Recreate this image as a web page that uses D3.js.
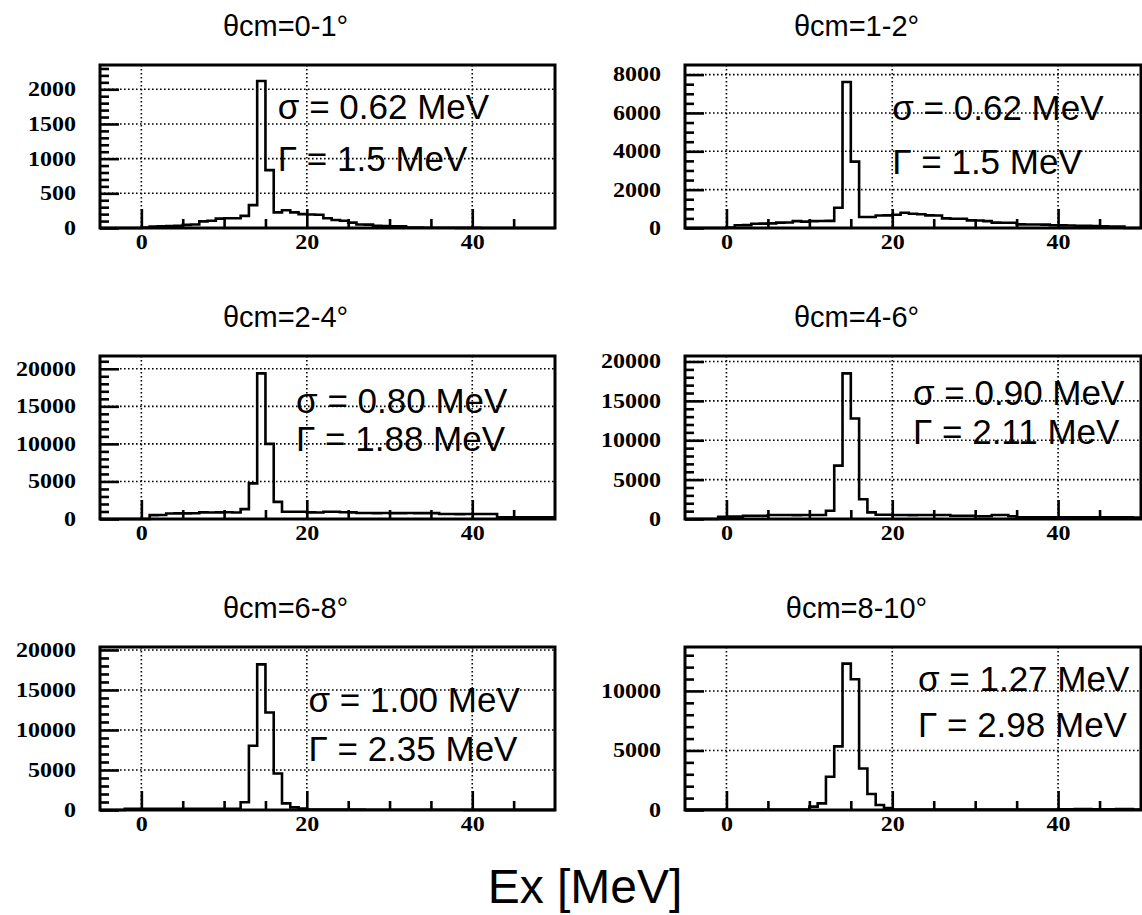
<!DOCTYPE html>
<html>
<head>
<meta charset="utf-8">
<script src="https://cdn.jsdelivr.net/npm/d3@7"></script>
<style>
  body { margin: 0; background: #fff; }
  svg { display: block; }
</style>
</head>
<body>
<div id="graph-holder"></div>
<script>
// bins are 1 MeV wide, left edges -5 ... 49
var binEdges = d3.range(-5, 51, 1);

var titles = ["θcm=0-1°", "θcm=1-2°", "θcm=2-4°", "θcm=4-6°", "θcm=6-8°", "θcm=8-10°"];
var sigmaText = ["σ = 0.62 MeV", "σ = 0.62 MeV", "σ = 0.80 MeV", "σ = 0.90 MeV", "σ = 1.00 MeV", "σ = 1.27 MeV"];
var gammaText = ["Γ = 1.5 MeV", "Γ = 1.5 MeV", "Γ = 1.88 MeV", "Γ = 2.11 MeV", "Γ = 2.35 MeV", "Γ = 2.98 MeV"];

var yMax = [2350, 8500, 21700, 20700, 20370, 13690];
var yMajor = [
  [0, 500, 1000, 1500, 2000],
  [0, 2000, 4000, 6000, 8000],
  [0, 5000, 10000, 15000, 20000],
  [0, 5000, 10000, 15000, 20000],
  [0, 5000, 10000, 15000, 20000],
  [0, 5000, 10000]
];
var yMinorStep = [100, 500, 1000, 1000, 1000, 1000];
var xMajor = [0, 20, 40];
var xMinor = [5, 10, 15, 25, 30, 35, 45];

// counts per bin
var counts0 = [0, 0, 0, 0, 0, 5, 20, 25, 28, 30, 45, 50, 95, 105, 135, 140, 140, 175, 330, 2120,
  835, 225, 255, 225, 200, 195, 190, 140, 115, 105, 78, 50, 48, 30, 28, 26, 25, 8, 5, 4,
  4, 3, 3, 2, 2, 2, 1, 1, 0, 0, 0, 0, 0, 0, 0];
var counts1 = [0, 0, 0, 0, 0, 30, 140, 150, 220, 230, 240, 280, 290, 360, 330, 360, 365, 370, 1055, 7610,
  3460, 570, 575, 650, 660, 690, 795, 745, 720, 660, 650, 500, 485, 480, 400, 390, 360, 280, 275, 270,
  190, 185, 180, 175, 140, 135, 130, 120, 110, 100, 90, 80, 70, 0, 0];
var counts2 = [0, 0, 0, 0, 0, 0, 520, 530, 740, 750, 745, 760, 880, 870, 880, 890, 870, 1320, 4740, 19390,
  10000, 2280, 960, 970, 960, 880, 870, 960, 970, 900, 880, 790, 790, 785, 790, 780, 785, 790, 780, 785,
  780, 660, 660, 655, 660, 665, 660, 660, 220, 220, 225, 220, 220, 215, 220];
var counts3 = [0, 0, 0, 0, 290, 300, 300, 420, 420, 410, 500, 500, 500, 490, 500, 505, 500, 1050, 6780, 18490,
  12760, 2510, 840, 540, 545, 500, 500, 495, 500, 500, 500, 500, 420, 420, 420, 340, 340, 500, 500, 340,
  210, 210, 205, 210, 210, 215, 210, 210, 205, 210, 210, 205, 210, 210, 200];
var counts4 = [0, 0, 0, 150, 150, 150, 150, 150, 150, 150, 150, 150, 150, 150, 150, 150, 150, 960, 8020, 18200,
  12180, 4570, 830, 330, 170, 60, 60, 55, 50, 50, 45, 45, 40, 40, 40, 35, 35, 30, 30, 30,
  30, 25, 25, 25, 20, 20, 20, 20, 15, 15, 15, 10, 10, 10, 10];
var counts5 = [40, 40, 40, 40, 40, 40, 40, 40, 40, 40, 40, 40, 40, 40, 40, 280, 560, 2790, 5340, 12290,
  10980, 3490, 1340, 420, 170, 30, 30, 30, 30, 30, 30, 30, 30, 30, 30, 30, 30, 30, 30, 30,
  30, 30, 30, 30, 30, 60, 60, 90, 90, 60, 60, 60, 90, 90, 40];
var allCounts = [counts0, counts1, counts2, counts3, counts4, counts5];

// where the sigma / gamma text starts (MeV) and its baselines (fraction of frame height)
var textX = [16.5, 20, 18.7, 22.5, 20.2, 23.1];
var textY1 = [0.33, 0.34, 0.35, 0.30, 0.40, 0.27];
var textY2 = [0.65, 0.67, 0.58, 0.54, 0.70, 0.555];

var W = 1142, H = 915;
var colLeft = [100, 685], colRight = [555, 1141];
var rowTop = [65, 356, 647], frameH = 163;
var padW = 571;
var labelStretch = 1.2;

var svg = d3.select("#graph-holder").append("svg")
  .attr("width", W).attr("height", H);

var serif = "'Liberation Serif', 'Times New Roman', serif";
var sans = "'Liberation Sans', Arial, Helvetica, sans-serif";

allCounts.forEach(function(counts, i) {
  var col = i % 2, row = Math.floor(i / 2);
  var left = colLeft[col], right = colRight[col];
  var top = rowTop[row], bottom = top + frameH;

  var x = d3.scaleLinear().domain([-5, 50]).range([left, right]);
  var y = d3.scaleLinear().domain([0, yMax[i]]).range([bottom, top]);

  var g = svg.append("g");

  // title centred over the pad
  g.append("text")
    .attr("x", col * padW + padW / 2)
    .attr("y", top - 29)
    .attr("text-anchor", "middle")
    .style("font-family", sans)
    .style("font-size", "29px")
    .text(titles[i]);

  // dotted grid
  g.selectAll("line.gx").data(xMajor).enter().append("line")
    .attr("x1", d => x(d)).attr("x2", d => x(d))
    .attr("y1", top).attr("y2", bottom)
    .attr("stroke", "#000").attr("stroke-width", 1.6)
    .attr("stroke-dasharray", "1.6,2.4");
  g.selectAll("line.gy").data(yMajor[i].filter(d => d > 0)).enter().append("line")
    .attr("x1", left).attr("x2", right)
    .attr("y1", d => y(d)).attr("y2", d => y(d))
    .attr("stroke", "#000").attr("stroke-width", 1.6)
    .attr("stroke-dasharray", "1.6,2.4");

  // ticks, drawn inward like ROOT
  var yMinor = d3.range(0, yMax[i], yMinorStep[i]).filter(d => yMajor[i].indexOf(d) < 0);
  var xAxis = d3.axisBottom(x).tickValues(xMajor).tickSize(-19).tickPadding(7).tickFormat(d3.format("d"));
  var xAxisMinor = d3.axisBottom(x).tickValues(xMinor).tickSize(-9).tickFormat("");
  var yAxis = d3.axisLeft(y).tickValues(yMajor[i]).tickSize(-19).tickPadding(20).tickFormat(d3.format("d"));
  var yAxisMinor = d3.axisLeft(y).tickValues(yMinor).tickSize(-9).tickFormat("");

  [[xAxis, "translate(0," + bottom + ")"], [xAxisMinor, "translate(0," + bottom + ")"],
   [yAxis, "translate(" + left + ",0)"], [yAxisMinor, "translate(" + left + ",0)"]].forEach(function(a) {
    var ax = g.append("g").attr("transform", a[1]).call(a[0]);
    ax.select(".domain").remove();
    ax.selectAll(".tick line").attr("stroke", "#000").attr("stroke-width", 2.6);
    ax.selectAll(".tick text")
      .attr("transform", "scale(" + labelStretch + ",1)")
      .style("font-family", serif)
      .style("font-weight", "bold")
      .style("font-size", "20px")
      .attr("fill", "#000");
  });

  // histogram outline
  var pts = binEdges.map((e, k) => [e, k < counts.length ? counts[k] : counts[counts.length - 1]]);
  var line = d3.line()
    .x(d => x(d[0]))
    .y(d => y(d[1]))
    .curve(d3.curveStepAfter);
  g.append("path")
    .attr("d", line(pts))
    .attr("fill", "none")
    .attr("stroke", "#000")
    .attr("stroke-width", 2.6);

  // frame
  g.append("rect")
    .attr("x", left).attr("y", top)
    .attr("width", right - left).attr("height", frameH)
    .attr("fill", "none").attr("stroke", "#000").attr("stroke-width", 3);

  // fit results
  [[sigmaText[i], textY1[i]], [gammaText[i], textY2[i]]].forEach(function(t) {
    g.append("text")
      .attr("x", x(textX[i]))
      .attr("y", top + t[1] * frameH)
      .style("font-family", sans)
      .style("font-size", "35px")
      .text(t[0]);
  });
});

svg.append("text")
  .attr("x", 585)
  .attr("y", 903)
  .attr("text-anchor", "middle")
  .style("font-family", sans)
  .style("font-size", "48px")
  .text("Ex [MeV]");
</script>
</body>
</html>
